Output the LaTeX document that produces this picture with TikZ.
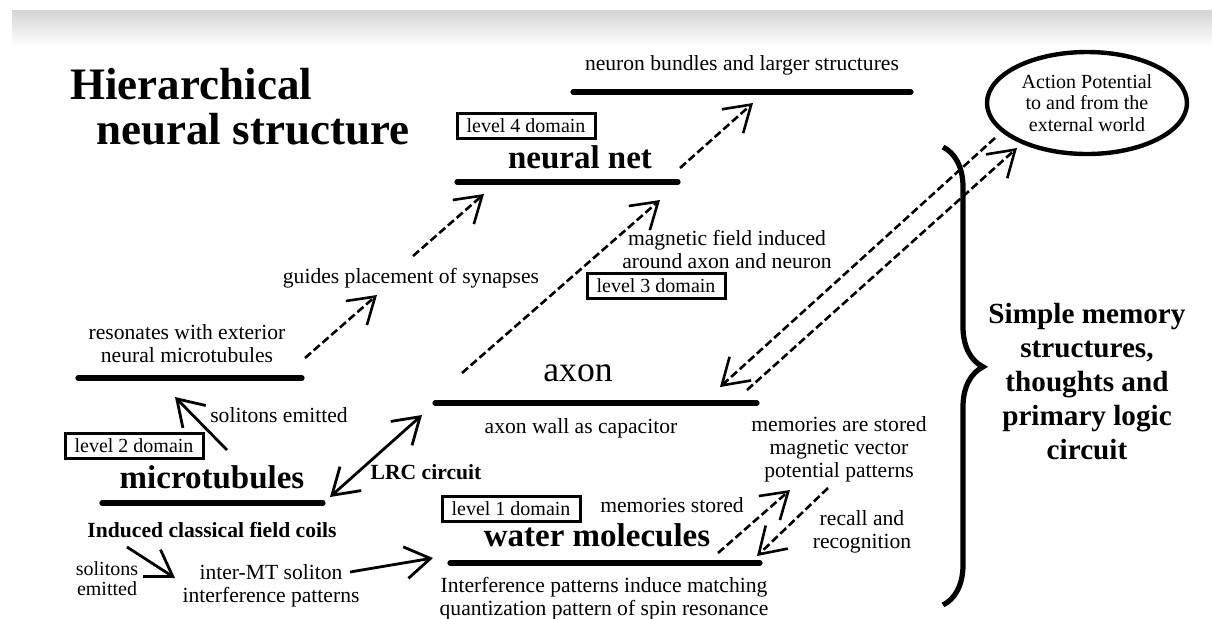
\documentclass[tikz,border=0pt]{standalone}
\usepackage{fontspec}
\setmainfont{Liberation Serif}
\usepackage{tikz}
\usetikzlibrary{positioning, shapes.geometric, arrows.meta, decorations.pathreplacing}

\begin{document}
\begin{tikzpicture}[x=0.5pt, y=-0.5pt, >={Straight Barb[length=12.5pt, width=16pt]}, every node/.style={font=\fontsize{10.8}{11.5}\selectfont, inner sep=0pt, align=center},
    lvlline/.style={line width=2.6pt, line cap=round},
    domainbox/.style={draw, rectangle, line width=1.5pt, minimum width=69pt, minimum height=12.5pt, font=\fontsize{10}{11}\selectfont},
    bigname/.style={font=\fontsize{16.5}{18}\selectfont\bfseries},
    dasharrow/.style={->, line width=1.3pt, dash pattern=on 4pt off 1.8pt},
    solidarrow/.style={->, line width=1.4pt}]
    \useasboundingbox (0,0) rectangle (1212,618);
    \fill [white] (0,0) rectangle (1212,618);
    \shade [top color=black!17, bottom color=white] (12,10) rectangle (1212,46);

    \node [anchor=west, font=\fontsize{22.5}{24}\selectfont\bfseries] (title1) at (70,84) {Hierarchical};
    \node [anchor=west, font=\fontsize{22.5}{24}\selectfont\bfseries] (title2) at (96,129) {neural structure};

    \coordinate (topL) at (573,92);
    \coordinate (topR) at (911,92);
    \coordinate (netL) at (457,182);
    \coordinate (netR) at (678,182);
    \coordinate (resL) at (78,378);
    \coordinate (resR) at (302,378);
    \coordinate (axL) at (435,403);
    \coordinate (axR) at (757,403);
    \coordinate (mtL) at (102,503);
    \coordinate (mtR) at (323,503);
    \coordinate (wmL) at (450,563);
    \coordinate (wmR) at (760,563);

    \draw [lvlline] (topL) -- (topR);
    \draw [lvlline] (netL) -- (netR);
    \draw [lvlline] (resL) -- (resR);
    \draw [lvlline] (axL) -- (axR);
    \draw [lvlline] (mtL) -- (mtR);
    \draw [lvlline] (wmL) -- (wmR);

    \node (bundles) at (742,65) {neuron bundles and larger structures};
    \node [domainbox] (lvl4) at (526,126) {level 4 domain};
    \node [bigname] (net) at (580,157) {neural net};

    \node [draw, ellipse, line width=2.2pt, minimum width=100pt, minimum height=51pt, font=\fontsize{10}{10.6}\selectfont] (ap) at (1087,103) {Action Potential\\ to and from the\\ external world};

    \draw [decorate, decoration={brace, amplitude=20pt, aspect=0.48}, line width=2.6pt] (943,147) -- (943,605);
    \node [font=\fontsize{14.6}{17}\selectfont\bfseries] (simple) at (1087,382) {Simple memory\\ structures,\\ thoughts and\\ primary logic\\ circuit};

    \node (magfield) at (727,249) {magnetic field induced\\ around axon and neuron};
    \node [domainbox] (lvl3) at (656,286) {level 3 domain};
    \node (guides) at (411,278) {guides placement of synapses};
    \node (resonates) at (187,344) {resonates with exterior\\ neural microtubules};

    \node [font=\fontsize{17.8}{19}\selectfont] (axon) at (578,373) {axon};
    \node (axwall) at (581,428) {axon wall as capacitor};

    \node (solup) at (279,415) {solitons emitted};
    \node [domainbox] (lvl2) at (134,446) {level 2 domain};
    \node [bigname] (mt) at (212,477) {microtubules};
    \node [font=\fontsize{10.8}{11.5}\selectfont\bfseries] (lrc) at (426,472) {LRC circuit};
    \node [font=\fontsize{10.8}{11.5}\selectfont\bfseries] (coils) at (212,530) {Induced classical field coils};
    \node [font=\fontsize{10}{10}\selectfont] (soldown) at (107,579) {solitons\\ emitted};
    \node (intermt) at (271,586) {inter-MT soliton\\ interference patterns};

    \node [domainbox] (lvl1) at (511,509) {level 1 domain};
    \node (memstored) at (672,505) {memories stored};
    \node [bigname] (water) at (597,535) {water molecules};
    \node (memvector) at (839,449) {memories are stored\\ magnetic vector\\ potential patterns};
    \node (recall) at (862,532) {recall and\\ recognition};
    \node (interf) at (604,599) {Interference patterns induce matching\\ quantization pattern of spin resonance};

    \coordinate (a1s) at (680,168);
    \coordinate (a1e) at (753,103);
    \coordinate (a2s) at (305,358);
    \coordinate (a2e) at (377,295);
    \coordinate (a3s) at (413,256);
    \coordinate (a3e) at (484,194);
    \coordinate (a4s) at (462,373);
    \coordinate (a4e) at (660,200);
    \coordinate (a5s) at (995,138);
    \coordinate (a5e) at (720,387);
    \coordinate (a6s) at (747,390);
    \coordinate (a6e) at (1017,148);
    \coordinate (a7s) at (718,553);
    \coordinate (a7e) at (790,490);
    \coordinate (a8s) at (828,488);
    \coordinate (a8e) at (757,556);
    \coordinate (b1s) at (227,450);
    \coordinate (b1e) at (175,397);
    \coordinate (b2s) at (330,497);
    \coordinate (b2e) at (422,415);
    \coordinate (b3s) at (127,547);
    \coordinate (b3e) at (175,578);
    \coordinate (b4s) at (350,572);
    \coordinate (b4e) at (433,558);

    \draw [dasharrow] (a1s) -- (a1e);
    \draw [dasharrow] (a2s) -- (a2e);
    \draw [dasharrow] (a3s) -- (a3e);
    \draw [dasharrow] (a4s) -- (a4e);
    \draw [dasharrow] (a5s) -- (a5e);
    \draw [dasharrow] (a6s) -- (a6e);
    \draw [dasharrow] (a7s) -- (a7e);
    \draw [dasharrow] (a8s) -- (a8e);
    \draw [solidarrow] (b1s) -- (b1e);
    \draw [solidarrow, <->] (b2s) -- (b2e);
    \draw [solidarrow] (b3s) -- (b3e);
    \draw [solidarrow] (b4s) -- (b4e);
\end{tikzpicture}
\end{document}
